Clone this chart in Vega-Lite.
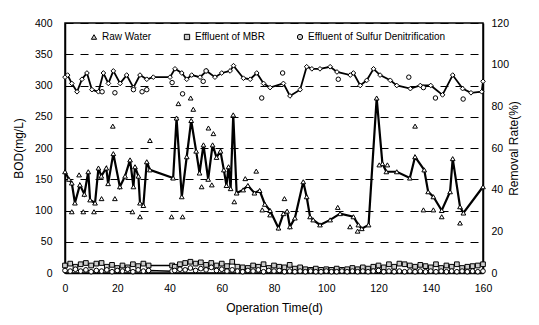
{
  "$schema": "https://vega.github.io/schema/vega-lite/v6.json",
  "width": 418,
  "height": 250,
  "autosize": {"type": "none"},
  "padding": {"left": 65, "top": 23, "right": 56, "bottom": 52},
  "background": "white",
  "config": {
    "font": "Liberation Sans",
    "view": {"stroke": "black", "strokeWidth": 1.5},
    "axis": {"labelFont": "Liberation Sans", "titleFont": "Liberation Sans", "labelColor": "black", "titleColor": "black", "titleFontWeight": "normal", "labelFontSize": 10.5, "titleFontSize": 12, "domainColor": "black", "domainWidth": 1.5}
  },
  "datasets": {
    "raw": [
      {"d": 0, "v": 162}, {"d": 1.5, "v": 150}, {"d": 2.6, "v": 144}, {"d": 3.8, "v": 112}, {"d": 5.7, "v": 141}, {"d": 7.4, "v": 126}, {"d": 8.9, "v": 162}, {"d": 9.6, "v": 117}, {"d": 11.5, "v": 112}, {"d": 12.8, "v": 168}, {"d": 13.9, "v": 155}, {"d": 15.8, "v": 168}, {"d": 16.5, "v": 143}, {"d": 18.5, "v": 191}, {"d": 21, "v": 138}, {"d": 23, "v": 155}, {"d": 24.9, "v": 181}, {"d": 26.2, "v": 138}, {"d": 26.8, "v": 170}, {"d": 28.1, "v": 155}, {"d": 28.7, "v": 112}, {"d": 30, "v": 108}, {"d": 31.3, "v": 178}, {"d": 32.5, "v": 165}, {"d": 41.4, "v": 152}, {"d": 42.7, "v": 248}, {"d": 44.7, "v": 122}, {"d": 46.6, "v": 186}, {"d": 48.3, "v": 244}, {"d": 50.2, "v": 195}, {"d": 51.5, "v": 160}, {"d": 53, "v": 205}, {"d": 54.8, "v": 150}, {"d": 56.5, "v": 205}, {"d": 58, "v": 185}, {"d": 59.5, "v": 195}, {"d": 60.8, "v": 165}, {"d": 61.8, "v": 140}, {"d": 62.6, "v": 170}, {"d": 63.4, "v": 135}, {"d": 64.4, "v": 253}, {"d": 65.7, "v": 128}, {"d": 68.2, "v": 133}, {"d": 70, "v": 140}, {"d": 72.5, "v": 128}, {"d": 74.5, "v": 132}, {"d": 76.5, "v": 110}, {"d": 78.5, "v": 100}, {"d": 81.7, "v": 72}, {"d": 83.6, "v": 95}, {"d": 85, "v": 99}, {"d": 86.1, "v": 74}, {"d": 88, "v": 88}, {"d": 91.2, "v": 146}, {"d": 92.5, "v": 122}, {"d": 93.8, "v": 90}, {"d": 95, "v": 85}, {"d": 97.6, "v": 77}, {"d": 101.5, "v": 85}, {"d": 105.3, "v": 95}, {"d": 110.4, "v": 90}, {"d": 112.3, "v": 77}, {"d": 113.6, "v": 71}, {"d": 116.2, "v": 77}, {"d": 119.3, "v": 280}, {"d": 121.5, "v": 175}, {"d": 123, "v": 162}, {"d": 127, "v": 162}, {"d": 132, "v": 152}, {"d": 134, "v": 186}, {"d": 137.5, "v": 165}, {"d": 139, "v": 130}, {"d": 141, "v": 122}, {"d": 144.2, "v": 100}, {"d": 147.4, "v": 130}, {"d": 148.4, "v": 183}, {"d": 151.2, "v": 106}, {"d": 152.5, "v": 96}, {"d": 160, "v": 138}
    ],
    "rawx": [
      {"d": 2.6, "v": 98}, {"d": 5.4, "v": 157}, {"d": 7, "v": 98}, {"d": 11.1, "v": 98}, {"d": 14, "v": 119}, {"d": 18.3, "v": 235}, {"d": 19.1, "v": 119}, {"d": 25.8, "v": 98}, {"d": 28.7, "v": 90}, {"d": 32.5, "v": 212}, {"d": 40.8, "v": 90}, {"d": 43.4, "v": 271}, {"d": 45, "v": 90}, {"d": 48.1, "v": 280}, {"d": 49.1, "v": 262}, {"d": 52.3, "v": 138}, {"d": 54.9, "v": 232}, {"d": 56.2, "v": 141}, {"d": 56.8, "v": 223}, {"d": 64.8, "v": 114}, {"d": 69, "v": 151}, {"d": 73.2, "v": 163}, {"d": 75.5, "v": 101}, {"d": 78.5, "v": 93}, {"d": 84, "v": 119}, {"d": 104.4, "v": 105}, {"d": 109.1, "v": 74}, {"d": 112, "v": 67}, {"d": 120.3, "v": 173}, {"d": 123.4, "v": 173}, {"d": 134, "v": 235}, {"d": 137.2, "v": 101}, {"d": 141, "v": 101}, {"d": 144.2, "v": 90}, {"d": 151.2, "v": 80}
    ],
    "mbr": [
      {"d": 0, "v": 12}, {"d": 2, "v": 15}, {"d": 4, "v": 10}, {"d": 6, "v": 14}, {"d": 8, "v": 16}, {"d": 10, "v": 12}, {"d": 12, "v": 15}, {"d": 14, "v": 16}, {"d": 16, "v": 10}, {"d": 18, "v": 13}, {"d": 20, "v": 8}, {"d": 22, "v": 12}, {"d": 24, "v": 9}, {"d": 26, "v": 14}, {"d": 28, "v": 11}, {"d": 30, "v": 15}, {"d": 32, "v": 12}, {"d": 41, "v": 12}, {"d": 42, "v": 10}, {"d": 44, "v": 14}, {"d": 46, "v": 16}, {"d": 48, "v": 18}, {"d": 50, "v": 15}, {"d": 52, "v": 17}, {"d": 54, "v": 13}, {"d": 56, "v": 16}, {"d": 58, "v": 12}, {"d": 60, "v": 15}, {"d": 62, "v": 11}, {"d": 64, "v": 18}, {"d": 66, "v": 10}, {"d": 68, "v": 9}, {"d": 70, "v": 8}, {"d": 72, "v": 12}, {"d": 74, "v": 10}, {"d": 76, "v": 14}, {"d": 78, "v": 8}, {"d": 80, "v": 12}, {"d": 82, "v": 10}, {"d": 84, "v": 9}, {"d": 86, "v": 13}, {"d": 88, "v": 7}, {"d": 90, "v": 9}, {"d": 92, "v": 6}, {"d": 94, "v": 5}, {"d": 96, "v": 7}, {"d": 98, "v": 5}, {"d": 100, "v": 6}, {"d": 102, "v": 5}, {"d": 104, "v": 7}, {"d": 106, "v": 5}, {"d": 108, "v": 6}, {"d": 110, "v": 8}, {"d": 112, "v": 6}, {"d": 114, "v": 9}, {"d": 116, "v": 7}, {"d": 118, "v": 10}, {"d": 120, "v": 12}, {"d": 122, "v": 9}, {"d": 124, "v": 14}, {"d": 126, "v": 10}, {"d": 128, "v": 15}, {"d": 130, "v": 14}, {"d": 132, "v": 12}, {"d": 134, "v": 10}, {"d": 136, "v": 13}, {"d": 138, "v": 11}, {"d": 140, "v": 9}, {"d": 142, "v": 14}, {"d": 144, "v": 8}, {"d": 146, "v": 12}, {"d": 148, "v": 10}, {"d": 150, "v": 14}, {"d": 152, "v": 8}, {"d": 154, "v": 10}, {"d": 156, "v": 11}, {"d": 158, "v": 12}, {"d": 160, "v": 14}
    ],
    "sul": [
      {"d": 0, "v": 4}, {"d": 2, "v": 3}, {"d": 4, "v": 6}, {"d": 6, "v": 3}, {"d": 8, "v": 5}, {"d": 10, "v": 2}, {"d": 12, "v": 4}, {"d": 14, "v": 3}, {"d": 16, "v": 5}, {"d": 18, "v": 2}, {"d": 20, "v": 4}, {"d": 22, "v": 3}, {"d": 24, "v": 6}, {"d": 26, "v": 2}, {"d": 28, "v": 5}, {"d": 30, "v": 3}, {"d": 32, "v": 4}, {"d": 41, "v": 3}, {"d": 42, "v": 4}, {"d": 44, "v": 6}, {"d": 46, "v": 5}, {"d": 48, "v": 8}, {"d": 50, "v": 4}, {"d": 52, "v": 7}, {"d": 54, "v": 5}, {"d": 56, "v": 9}, {"d": 58, "v": 4}, {"d": 60, "v": 6}, {"d": 62, "v": 3}, {"d": 64, "v": 5}, {"d": 66, "v": 3}, {"d": 68, "v": 2}, {"d": 70, "v": 4}, {"d": 72, "v": 3}, {"d": 74, "v": 5}, {"d": 76, "v": 2}, {"d": 78, "v": 4}, {"d": 80, "v": 3}, {"d": 82, "v": 4}, {"d": 84, "v": 2}, {"d": 86, "v": 3}, {"d": 88, "v": 2}, {"d": 90, "v": 3}, {"d": 92, "v": 2}, {"d": 94, "v": 3}, {"d": 96, "v": 2}, {"d": 98, "v": 2}, {"d": 100, "v": 3}, {"d": 102, "v": 2}, {"d": 104, "v": 2}, {"d": 106, "v": 3}, {"d": 108, "v": 2}, {"d": 110, "v": 3}, {"d": 112, "v": 2}, {"d": 114, "v": 3}, {"d": 116, "v": 2}, {"d": 118, "v": 3}, {"d": 120, "v": 4}, {"d": 122, "v": 2}, {"d": 124, "v": 3}, {"d": 126, "v": 2}, {"d": 128, "v": 3}, {"d": 130, "v": 2}, {"d": 132, "v": 3}, {"d": 134, "v": 2}, {"d": 136, "v": 3}, {"d": 138, "v": 2}, {"d": 140, "v": 3}, {"d": 142, "v": 2}, {"d": 144, "v": 3}, {"d": 146, "v": 2}, {"d": 148, "v": 3}, {"d": 150, "v": 2}, {"d": 152, "v": 3}, {"d": 154, "v": 2}, {"d": 156, "v": 3}, {"d": 158, "v": 2}, {"d": 160, "v": 3}
    ],
    "rr": [
      {"d": 0, "r": 94}, {"d": 1, "r": 95}, {"d": 2.6, "r": 91}, {"d": 4.6, "r": 87}, {"d": 6.5, "r": 93}, {"d": 8.4, "r": 96}, {"d": 10.3, "r": 88}, {"d": 12.8, "r": 87}, {"d": 14.7, "r": 96}, {"d": 16.6, "r": 91}, {"d": 18.5, "r": 97}, {"d": 21.1, "r": 91}, {"d": 23.6, "r": 95}, {"d": 26.2, "r": 89}, {"d": 28.7, "r": 95}, {"d": 31.3, "r": 93}, {"d": 33.8, "r": 94}, {"d": 40.2, "r": 94}, {"d": 42.1, "r": 98}, {"d": 44.7, "r": 96}, {"d": 46.6, "r": 93}, {"d": 48.5, "r": 95}, {"d": 51.7, "r": 94}, {"d": 54.2, "r": 97}, {"d": 57.4, "r": 94}, {"d": 60, "r": 96}, {"d": 63.2, "r": 97}, {"d": 64.5, "r": 99.5}, {"d": 68.3, "r": 93.5}, {"d": 70.9, "r": 93}, {"d": 73.4, "r": 96}, {"d": 76, "r": 91}, {"d": 78.5, "r": 89}, {"d": 83.6, "r": 91}, {"d": 86.1, "r": 85}, {"d": 90, "r": 88}, {"d": 92.5, "r": 99}, {"d": 94.5, "r": 98}, {"d": 97.6, "r": 98}, {"d": 101.5, "r": 99}, {"d": 104.1, "r": 96.5}, {"d": 109.2, "r": 95}, {"d": 110.4, "r": 96}, {"d": 113, "r": 90}, {"d": 115.5, "r": 92.5}, {"d": 118.1, "r": 98}, {"d": 120.6, "r": 95}, {"d": 124.5, "r": 92.5}, {"d": 127, "r": 90}, {"d": 132.2, "r": 88.5}, {"d": 136, "r": 90}, {"d": 140, "r": 90}, {"d": 144.5, "r": 85.5}, {"d": 148.4, "r": 95}, {"d": 152.2, "r": 88.5}, {"d": 155.4, "r": 86.5}, {"d": 159.5, "r": 87}, {"d": 160, "r": 92}
    ],
    "rrx": [
      {"d": 14.2, "r": 87}, {"d": 19.1, "r": 86.5}, {"d": 26.2, "r": 88}, {"d": 29.5, "r": 87}, {"d": 31.3, "r": 88}, {"d": 41, "r": 91.4}, {"d": 45, "r": 86}, {"d": 52.9, "r": 92}, {"d": 54, "r": 97}, {"d": 75.3, "r": 84}, {"d": 83.3, "r": 96}, {"d": 104.6, "r": 93}, {"d": 131.6, "r": 94}, {"d": 137.2, "r": 89}, {"d": 141.8, "r": 84}, {"d": 152.4, "r": 83.5}
    ]
  },
  "encoding": {
    "x": {"field": "d", "type": "quantitative", "scale": {"domain": [0, 160], "nice": false},
      "axis": {"title": "Operation Time(d)", "tickCount": 8, "ticks": false, "grid": false, "labelPadding": 10, "titlePadding": 9, "labelFlush": false}}
  },
  "layer": [
    {
      "encoding": {"y": {"field": "v", "type": "quantitative", "scale": {"domain": [0, 400], "nice": false},
        "axis": {"title": "BOD(mg/L)", "tickCount": 8, "ticks": false, "labelPadding": 13, "titlePadding": 9, "grid": true, "gridColor": "black", "gridDash": [8, 7], "gridWidth": 1, "gridOpacity": 1, "labelFlush": false, "labelOverlap": false}}},
      "layer": [
        {"data": {"name": "mbr"}, "mark": {"type": "line", "color": "black", "strokeWidth": 1.5}},
        {"data": {"name": "sul"}, "mark": {"type": "line", "color": "black", "strokeWidth": 1.5}},
        {"data": {"name": "raw"}, "mark": {"type": "line", "color": "black", "strokeWidth": 2.2}},
        {"data": {"name": "mbr"}, "mark": {"type": "point", "filled": true, "fill": "#cccccc", "stroke": "black", "strokeWidth": 1, "size": 22, "opacity": 1},
         "encoding": {"shape": {"datum": "Effluent of MBR"}}},
        {"data": {"name": "sul"}, "mark": {"type": "point", "filled": true, "fill": "white", "stroke": "black", "strokeWidth": 1, "size": 22, "opacity": 1},
         "encoding": {"shape": {"datum": "Effluent of Sulfur Denitrification"}}},
        {"data": {"name": "raw"}, "mark": {"type": "point", "filled": true, "fill": "white", "stroke": "black", "strokeWidth": 1, "size": 22, "opacity": 1},
         "encoding": {
           "shape": {"datum": "Raw Water", "scale": {"domain": ["Raw Water", "Effluent of MBR", "Effluent of Sulfur Denitrification"], "range": ["triangle-up", "square", "circle"]},
             "legend": {"title": null, "orient": "none", "direction": "horizontal", "legendX": 24, "legendY": 9, "labelFont": "Liberation Sans", "labelFontSize": 10, "labelColor": "black", "symbolFillColor": "white", "symbolStrokeColor": "black", "symbolStrokeWidth": 1, "symbolSize": 28, "columnPadding": 30, "labelOffset": 3}}}},
        {"data": {"name": "rawx"}, "mark": {"type": "point", "filled": true, "fill": "white", "stroke": "black", "strokeWidth": 1, "size": 22, "opacity": 1},
         "encoding": {"shape": {"datum": "Raw Water"}}}
      ]
    },
    {
      "encoding": {"y": {"field": "r", "type": "quantitative", "scale": {"domain": [0, 120], "nice": false},
        "axis": {"orient": "right", "title": "Removal Rate(%)", "titleAngle": 270, "tickCount": 6, "ticks": false, "grid": false, "labelPadding": 8, "titlePadding": 12, "labelFlush": false, "labelOverlap": false}}},
      "layer": [
        {"data": {"name": "rr"}, "mark": {"type": "line", "color": "black", "strokeWidth": 1.8}},
        {"data": {"name": "rr"}, "mark": {"type": "point", "shape": "diamond", "filled": true, "fill": "white", "stroke": "black", "strokeWidth": 1, "size": 22, "opacity": 1}},
        {"data": {"name": "rrx"}, "mark": {"type": "point", "shape": "circle", "filled": true, "fill": "white", "stroke": "black", "strokeWidth": 1, "size": 20, "opacity": 1}}
      ]
    }
  ],
  "resolve": {"scale": {"y": "independent"}}
}
